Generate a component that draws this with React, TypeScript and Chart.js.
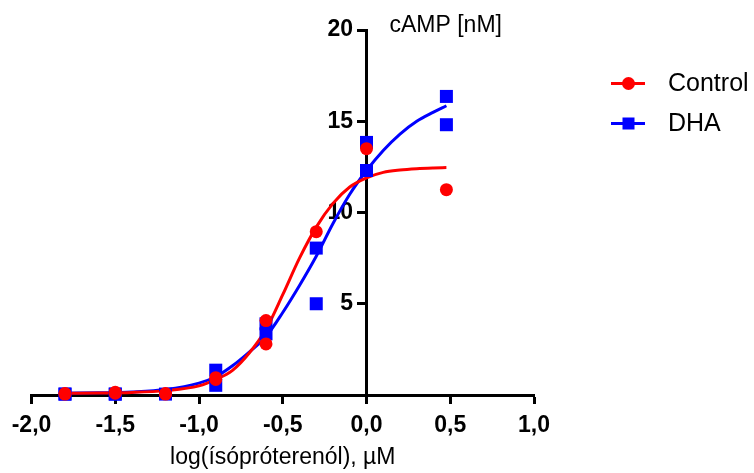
import React, { useEffect, useRef } from 'react';
import { Chart, registerables } from 'chart.js';

Chart.register(...registerables);

// x ticks (log concentration) and y ticks (cAMP nM)
const xTickValues = [-2, -1.5, -1, -0.5, 0, 0.5, 1];
const yTickValues = [0, 5, 10, 15, 20];

// measured replicates
const controlX = [-1.8, -1.8, -1.5, -1.5, -1.2, -1.2, -0.9, -0.9, -0.6, -0.6, -0.3, 0, 0.477];
const controlY = [0.05, 0.08, 0.1, 0.15, 0.05, 0.08, 0.85, 0.95, 4.08, 2.8, 8.95, 13.5, 11.25];
const dhaX = [-1.8, -1.8, -1.5, -1.5, -1.2, -0.9, -0.9, -0.6, -0.6, -0.3, -0.3, 0, 0, 0.477, 0.477];
const dhaY = [0.05, 0.05, 0.05, 0.05, 0.05, 1.36, 0.53, 3.9, 3.35, 8.05, 5.0, 13.84, 12.3, 16.36, 14.81];

// fitted curves
const curveX = [-1.8, -1.6, -1.4, -1.2, -1.0, -0.9, -0.8, -0.7, -0.6, -0.5, -0.4, -0.3, -0.2, -0.1, 0, 0.1, 0.2, 0.3, 0.4, 0.477];
const controlCurve = [0.1, 0.11, 0.14, 0.24, 0.5, 0.85, 1.35, 2.3, 3.6, 5.5, 7.5, 9.2, 10.5, 11.4, 11.9, 12.2, 12.33, 12.4, 12.44, 12.46];
const dhaCurve = [0.1, 0.12, 0.17, 0.3, 0.65, 1.0, 1.6, 2.35, 3.2, 4.52, 6.0, 7.6, 9.4, 11.0, 12.3, 13.4, 14.3, 15.0, 15.5, 15.85];

const seriesNames = ['Control', 'DHA'];
const yAxisLabel = 'cAMP [nM]';
const xAxisLabel = 'log(ísópróterenól), µM';

const RED = '#ff0000';
const BLUE = '#0000ff';
const FONT = '"Liberation Sans", Arial, Helvetica, sans-serif';

const zip = (xs: number[], ys: number[]) => xs.map((x, i) => ({ x, y: ys[i] }));

// y tick labels: place them left of the tick marks (axis sits at x = 0)
const yLabelShiftPlugin = {
  id: 'yLabelShift',
  beforeDraw(chart: any) {
    const ys = chart.scales.y;
    const items = ys.getLabelItems();
    const shift = ys.options.grid.tickLength + ys.options.ticks.padding;
    for (const it of items) {
      if (!it.__shifted) {
        it.options.translation = [it.options.translation[0] - shift, it.options.translation[1]];
        it.__shifted = true;
      }
    }
  },
};

const overlayPlugin = {
  id: 'overlay',
  afterDraw(chart: any) {
    const ctx = chart.ctx as CanvasRenderingContext2D;
    const xs = chart.scales.x;
    const ys = chart.scales.y;
    ctx.save();
    // y-axis caption near top of axis
    ctx.fillStyle = '#000';
    ctx.font = `23px ${FONT}`;
    ctx.textAlign = 'left';
    ctx.textBaseline = 'alphabetic';
    ctx.fillText(yAxisLabel, xs.getPixelForValue(0) + 23, ys.getPixelForValue(20) + 2);

    // legend
    const items = [
      { name: seriesNames[0], color: RED, style: 'circle', y: 83.5 },
      { name: seriesNames[1], color: BLUE, style: 'rect', y: 123.5 },
    ];
    for (const it of items) {
      ctx.strokeStyle = it.color;
      ctx.lineWidth = 3;
      ctx.beginPath();
      ctx.moveTo(611, it.y);
      ctx.lineTo(645, it.y);
      ctx.stroke();
      ctx.fillStyle = it.color;
      if (it.style === 'circle') {
        ctx.beginPath();
        ctx.arc(628.5, it.y, 6.5, 0, Math.PI * 2);
        ctx.fill();
      } else {
        ctx.fillRect(622.5, it.y - 6, 12, 12);
      }
      ctx.fillStyle = '#000';
      ctx.font = `25px ${FONT}`;
      ctx.textAlign = 'left';
      ctx.textBaseline = 'middle';
      ctx.fillText(it.name, 668, it.y + 1);
    }
    ctx.restore();
  },
};

export default function App() {
  const canvasRef = useRef<HTMLCanvasElement | null>(null);

  useEffect(() => {
    const canvas = canvasRef.current;
    if (!canvas) return;
    const chart = new Chart(canvas, {
      type: 'scatter',
      data: {
        datasets: [
          {
            label: seriesNames[0],
            data: zip(controlX, controlY),
            pointStyle: 'circle',
            pointRadius: 6.5,
            pointBorderWidth: 0,
            backgroundColor: RED,
            borderColor: RED,
            showLine: false,
            clip: false,
          },
          {
            label: seriesNames[1],
            data: zip(dhaX, dhaY),
            pointStyle: 'rect',
            pointRadius: 9.2,
            pointBorderWidth: 0,
            backgroundColor: BLUE,
            borderColor: BLUE,
            showLine: false,
            clip: false,
          },
          {
            label: seriesNames[0] + ' fit',
            data: zip(curveX, controlCurve),
            showLine: true,
            pointRadius: 0,
            borderColor: RED,
            borderWidth: 3,
            cubicInterpolationMode: 'monotone',
            clip: false,
          },
          {
            label: seriesNames[1] + ' fit',
            data: zip(curveX, dhaCurve),
            showLine: true,
            pointRadius: 0,
            borderColor: BLUE,
            borderWidth: 3,
            cubicInterpolationMode: 'monotone',
            clip: false,
          },
        ],
      } as any,
      plugins: [yLabelShiftPlugin, overlayPlugin],
      options: {
        responsive: false,
        animation: false,
        events: [],
        layout: { padding: { left: 31.5, right: 220, top: 30, bottom: 0 } },
        plugins: {
          legend: { display: false },
          tooltip: { enabled: false },
          title: { display: false },
        },
        scales: {
          x: {
            type: 'linear',
            position: 'bottom',
            min: -2,
            max: 1,
            afterBuildTicks: (s: any) => {
              s.ticks = xTickValues.map((v) => ({ value: v }));
            },
            afterFit: (s: any) => {
              s.height = 78;
            },
            border: { display: true, color: '#000', width: 3 },
            grid: {
              drawOnChartArea: false,
              drawTicks: true,
              tickLength: 9,
              tickWidth: 3,
              tickColor: '#000',
            },
            ticks: {
              color: '#000',
              padding: 8,
              maxRotation: 0,
              autoSkip: false,
              font: { family: FONT, size: 23, weight: 'bold' },
              callback: (v: any) => Number(v).toFixed(1).replace('-0.0', '0.0').replace('.', ','),
            },
            title: {
              display: true,
              text: xAxisLabel,
              color: '#000',
              font: { family: FONT, size: 23 },
              padding: { top: 0, bottom: 2 },
            },
          },
          y: {
            type: 'linear',
            position: { x: 0 } as any,
            min: 0,
            max: 20,
            afterBuildTicks: (s: any) => {
              s.ticks = yTickValues.map((v) => ({ value: v }));
            },
            border: { display: true, color: '#000', width: 3 },
            grid: {
              drawOnChartArea: false,
              drawTicks: true,
              tickLength: 8,
              tickWidth: 3,
              tickColor: '#000',
            },
            ticks: {
              color: '#000',
              padding: 5.5,
              autoSkip: false,
              font: { family: FONT, size: 23, weight: 'bold' },
              callback: (v: any) => (Number(v) === 0 ? '' : String(v)),
            },
          },
        },
      } as any,
    });
    return () => chart.destroy();
  }, []);

  return (
    <div style={{ position: 'absolute', left: 0, top: 0, width: 754, height: 473, background: '#fff' }}>
      <canvas ref={canvasRef} width={754} height={473} style={{ display: 'block', width: 754, height: 473 }} />
    </div>
  );
}
